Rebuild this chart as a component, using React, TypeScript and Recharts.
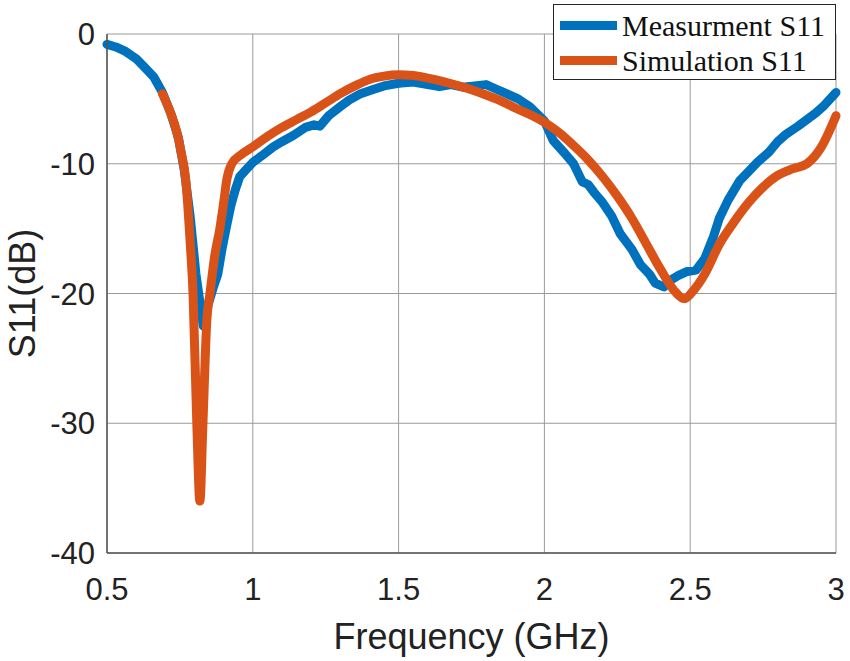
import React from 'react'
import { LineChart, Line, XAxis, YAxis, CartesianGrid } from 'recharts'

// measured S11 (blue)
const MEAS_FREQ = [
  0.5, 0.53, 0.56, 0.6, 0.63, 0.66, 0.69, 0.72, 0.745, 0.765, 0.785, 0.805, 0.83, 0.845, 0.865, 0.88,
  0.895, 0.91, 0.925, 0.94, 0.955, 0.975, 1.0, 1.03, 1.07, 1.1, 1.14, 1.18, 1.21, 1.23, 1.26, 1.3, 1.33,
  1.37, 1.41, 1.45, 1.5, 1.55, 1.6, 1.64, 1.68, 1.72, 1.76, 1.8, 1.83, 1.87, 1.91, 1.95, 2.0, 2.03, 2.07,
  2.1, 2.13, 2.15, 2.17, 2.2, 2.23, 2.26, 2.3, 2.33, 2.36, 2.38, 2.41, 2.43, 2.46, 2.49, 2.52, 2.55, 2.58,
  2.6, 2.63, 2.67, 2.7, 2.73, 2.77, 2.8, 2.83, 2.87, 2.9, 2.93, 2.96, 3.0,
]
const MEAS_S11 = [
  -0.8, -1.0, -1.3, -1.9, -2.6, -3.3, -4.5, -6.2, -8.0, -10.5, -14, -18.5, -22.5, -21, -19.5, -18.5,
  -16.5, -14.8, -13.2, -12, -11, -10.5, -9.9, -9.4, -8.7, -8.3, -7.8, -7.2, -7.0, -7.1, -6.3, -5.6, -5.1,
  -4.6, -4.3, -4.0, -3.8, -3.7, -3.9, -4.05, -3.9, -4.1, -4.0, -3.9, -4.2, -4.6, -5.0, -5.6, -6.7, -8.2, -9.2,
  -10.0, -11.4, -11.6, -12.2, -13.0, -14.0, -15.4, -16.6, -17.8, -18.5, -19.2, -19.5, -19.0, -18.6, -18.3,
  -18.2, -17.3, -15.6, -14.2, -12.8, -11.3, -10.6, -9.9, -9.1, -8.3, -7.7, -7.1, -6.6, -6.1, -5.5, -4.5,
]

// simulated S11 (orange)
const SIM_FREQ = [
  0.69, 0.715, 0.74, 0.755, 0.77, 0.785, 0.795, 0.808, 0.8185, 0.829, 0.8425, 0.853, 0.87, 0.887, 0.9,
  0.911, 0.928, 0.96, 1.0, 1.05, 1.1, 1.15, 1.2, 1.25, 1.3, 1.35, 1.4, 1.45, 1.5, 1.55, 1.6, 1.65, 1.7,
  1.75, 1.8, 1.85, 1.9, 1.95, 2.0, 2.05, 2.1, 2.15, 2.2, 2.25, 2.3, 2.35, 2.4, 2.45, 2.48, 2.51, 2.55,
  2.6, 2.65, 2.7, 2.75, 2.8, 2.85, 2.9, 2.95, 3.0,
]
const SIM_S11 = [
  -4.6, -5.9, -7.6, -9.2, -11.2, -16, -20, -30, -36, -30, -22, -20, -17, -15, -13, -11.2, -10, -9.3,
  -8.7, -7.9, -7.2, -6.6, -6.0, -5.3, -4.6, -4.0, -3.5, -3.25, -3.15, -3.2, -3.4, -3.65, -3.95, -4.3,
  -4.7, -5.15, -5.7, -6.2, -6.8, -7.6, -8.6, -9.7, -11.0, -12.5, -14.2, -16.2, -18.2, -19.9, -20.4,
  -19.8, -18.5, -16.2, -14.5, -13.0, -11.8, -10.9, -10.4, -10.0, -8.7, -6.3,
]

const X_TICKS = [0.5, 1, 1.5, 2, 2.5, 3]
const Y_TICKS = [0, -10, -20, -30, -40]
const SERIES_NAMES = ['Measurment S11', 'Simulation S11']
const COLORS = ['#0072BD', '#D95319']

const measData = MEAS_FREQ.map((f, i) => ({ f, v: MEAS_S11[i] }))
const simData = SIM_FREQ.map((f, i) => ({ f, v: SIM_S11[i] }))

const sans = '"Liberation Sans", Arial, sans-serif'

function LegendBox() {
  return (
    <div
      style={{
        position: 'absolute',
        left: 553,
        top: 4,
        width: 281,
        height: 74,
        border: '1px solid #262626',
        background: '#fff',
        fontFamily: '"Liberation Serif", "Times New Roman", serif',
        fontSize: 30,
        color: '#111',
      }}
    >
      {SERIES_NAMES.map((name, i) => (
        <div key={name} style={{ display: 'flex', alignItems: 'center', height: 35, marginTop: i === 0 ? 3 : 0 }}>
          <div style={{ width: 57, height: 9, background: COLORS[i], marginLeft: 6, marginRight: 5 }} />
          <span style={{ lineHeight: '35px', whiteSpace: 'nowrap' }}>{name}</span>
        </div>
      ))}
    </div>
  )
}

export default function App() {
  return (
    <div style={{ position: 'absolute', left: 0, top: 0, width: 850, height: 661, background: '#fff' }}>
      <LineChart width={850} height={661} margin={{ top: 34, right: 14, bottom: 0, left: 0 }}>
        <CartesianGrid stroke="#9a9a9a" strokeWidth={1} />
        <XAxis
          type="number"
          dataKey="f"
          domain={[0.5, 3]}
          ticks={X_TICKS}
          height={108}
          tickSize={0}
          tickMargin={25}
          axisLine={{ stroke: '#555', strokeWidth: 1.5 }}
          tick={{ fill: '#222', fontSize: 31, fontFamily: sans }}
          tickLine={false}
          allowDuplicatedCategory={false}
          label={{
            value: 'Frequency (GHz)',
            position: 'insideBottom',
            offset: 12,
            style: { fill: '#222', fontSize: 36, fontFamily: sans },
          }}
        />
        <YAxis
          type="number"
          domain={[-40, 0]}
          ticks={Y_TICKS}
          width={107}
          tickSize={0}
          tickMargin={12}
          axisLine={{ stroke: '#555', strokeWidth: 1.5 }}
          tick={{ fill: '#222', fontSize: 31, fontFamily: sans }}
          tickLine={false}
          label={{
            value: 'S11(dB)',
            angle: -90,
            position: 'insideLeft',
            offset: 22,
            style: { fill: '#222', fontSize: 36, fontFamily: sans, textAnchor: 'middle' },
          }}
        />
        <Line
          data={measData}
          dataKey="v"
          name={SERIES_NAMES[0]}
          type="linear"
          stroke={COLORS[0]}
          strokeWidth={9}
          strokeLinejoin="round"
          strokeLinecap="round"
          dot={false}
          isAnimationActive={false}
        />
        <Line
          data={simData}
          dataKey="v"
          name={SERIES_NAMES[1]}
          type="monotone"
          stroke={COLORS[1]}
          strokeWidth={9}
          strokeLinejoin="round"
          strokeLinecap="round"
          dot={false}
          isAnimationActive={false}
        />
      </LineChart>
      <LegendBox />
    </div>
  )
}
